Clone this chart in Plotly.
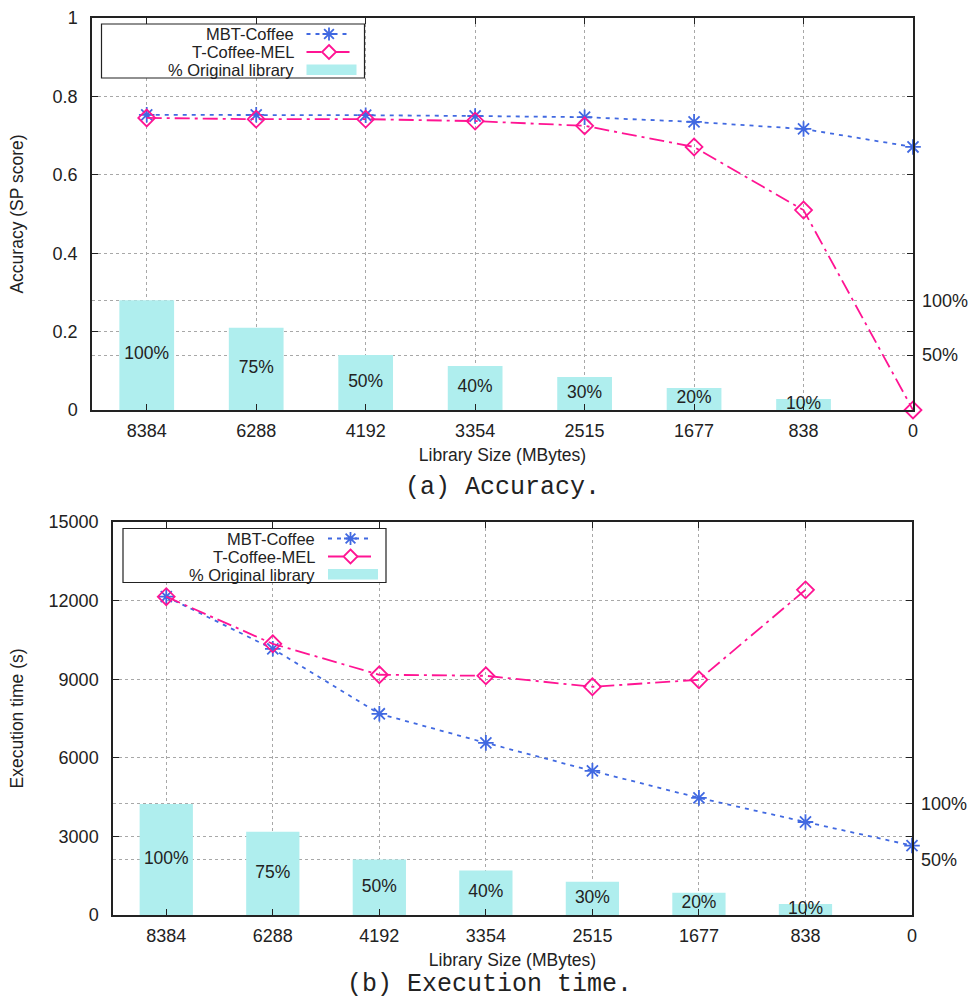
import plotly.graph_objects as go

# Library sizes (MBytes) on the x axis
sizes = ["8384", "6288", "4192", "3354", "2515", "1677", "838", "0"]

# Fraction of the original library kept, one bar per size (no bar at 0)
pct_library = [100, 75, 50, 40, 30, 20, 10]

# (a) Accuracy, SP score
acc_mbt = [0.753, 0.753, 0.752, 0.750, 0.747, 0.735, 0.717, 0.671]
acc_tcoffee = [0.745, 0.742, 0.742, 0.737, 0.725, 0.671, 0.510, 0.0]

# (b) Execution time, seconds
time_mbt = [12150, 10160, 7680, 6570, 5500, 4470, 3550, 2650]
time_tcoffee = [12150, 10350, 9170, 9130, 8710, 8980, 12410]

# Height (in left-axis units) that the 100% bar reaches in each panel
bar_full_acc = 0.28
bar_full_time = 4240

series_names = ["MBT-Coffee", "T-Coffee-MEL", "% Original library"]

BLUE = "#4169e1"
PINK = "#ff1493"
BAR = "#afeeee"
INK = "#222222"
GRID = "#a8a8a8"
FONT = "Liberation Sans"
MBT_DASH = "4px,5px"
TC_DASH = "15px,5px,3px,5px"

W, H = 971, 998


def px_x(a, b):
    return [a / W, b / W]


def px_y(top, bottom):
    return [1 - bottom / H, 1 - top / H]


def fx(px):
    return px / W


def fy(py):
    return 1 - py / H


fig = go.Figure()


def add_panel(xa, ya, ya2, y_mbt, y_tc, bar_full, ymax):
    fig.add_trace(go.Scatter(
        x=sizes[:len(y_mbt)], y=y_mbt, name=series_names[0], mode="lines+markers",
        line=dict(color=BLUE, width=1.8, dash=MBT_DASH),
        marker=dict(symbol="asterisk-open", size=13, color=BLUE,
                    line=dict(color=BLUE, width=1.8)),
        xaxis=xa, yaxis=ya, showlegend=False, cliponaxis=False))
    fig.add_trace(go.Scatter(
        x=sizes[:len(y_tc)], y=y_tc, name=series_names[1], mode="lines+markers",
        line=dict(color=PINK, width=1.8, dash=TC_DASH),
        marker=dict(symbol="diamond-open", size=13, color=PINK,
                    line=dict(color=PINK, width=1.8)),
        xaxis=xa, yaxis=ya, showlegend=False, cliponaxis=False))
    fig.add_trace(go.Bar(
        x=sizes[:len(pct_library)], y=pct_library, name=series_names[2],
        marker=dict(color=BAR, line=dict(width=0)), width=0.5,
        xaxis=xa, yaxis=ya2, showlegend=False))
    fig.add_trace(go.Scatter(
        x=sizes[:len(pct_library)], y=[p / 2 for p in pct_library],
        text=[f"{p}%" for p in pct_library], mode="text",
        textfont=dict(family=FONT, size=17.5, color=INK),
        showlegend=False, hoverinfo="skip",
        xaxis=xa, yaxis=ya2, cliponaxis=False))
    return ymax / bar_full * 100


r_acc = add_panel("x", "y", "y2", acc_mbt, acc_tcoffee, bar_full_acc, 1.0)
r_time = add_panel("x3", "y3", "y4", time_mbt, time_tcoffee, bar_full_time, 15000)


# Boxed key in the upper-left corner of each panel: label, then line/marker sample
def key_box(left, top):
    shapes, notes = [], []
    shapes.append(dict(type="rect", xref="paper", yref="paper", layer="above",
                       x0=fx(left), x1=fx(left + 263), y0=fy(top + 54), y1=fy(top),
                       fillcolor="white", line=dict(color=INK, width=1.2)))
    rows = [top + 10, top + 28, top + 46]
    text_right = left + 193
    s0, s1 = left + 205, left + 250
    mid = (s0 + s1) / 2
    for name, ry in zip(series_names, rows):
        notes.append(dict(text=name, x=fx(text_right), y=fy(ry), xref="paper", yref="paper",
                          xanchor="right", yanchor="middle", showarrow=False,
                          borderpad=0, font=dict(family=FONT, size=16.5, color=INK)))
    # MBT-Coffee sample
    shapes.append(dict(type="line", xref="paper", yref="paper", layer="above",
                       x0=fx(s0), x1=fx(s1), y0=fy(rows[0]), y1=fy(rows[0]),
                       line=dict(color=BLUE, width=1.8, dash=MBT_DASH)))
    r = 6.5
    cy = rows[0]
    star = (f"M{fx(mid)},{fy(cy - r)} L{fx(mid)},{fy(cy + r)} "
            f"M{fx(mid - r)},{fy(cy)} L{fx(mid + r)},{fy(cy)} "
            f"M{fx(mid - r * 0.75)},{fy(cy - r * 0.75)} L{fx(mid + r * 0.75)},{fy(cy + r * 0.75)} "
            f"M{fx(mid - r * 0.75)},{fy(cy + r * 0.75)} L{fx(mid + r * 0.75)},{fy(cy - r * 0.75)}")
    shapes.append(dict(type="path", xref="paper", yref="paper", layer="above",
                       path=star, line=dict(color=BLUE, width=1.8)))
    # T-Coffee-MEL sample
    cy = rows[1]
    shapes.append(dict(type="line", xref="paper", yref="paper", layer="above",
                       x0=fx(s0), x1=fx(s1), y0=fy(cy), y1=fy(cy),
                       line=dict(color=PINK, width=1.8, dash=TC_DASH)))
    d = 7
    diamond = (f"M{fx(mid)},{fy(cy - d)} L{fx(mid + d)},{fy(cy)} "
               f"L{fx(mid)},{fy(cy + d)} L{fx(mid - d)},{fy(cy)} Z")
    shapes.append(dict(type="path", xref="paper", yref="paper", layer="above",
                       path=diamond, fillcolor="white", line=dict(color=PINK, width=1.8)))
    # Bar sample
    shapes.append(dict(type="rect", xref="paper", yref="paper", layer="above",
                       x0=fx(s0), x1=fx(s0 + 50), y0=fy(rows[2] + 5), y1=fy(rows[2] - 5.5),
                       fillcolor=BAR, line=dict(width=0)))
    return shapes, notes


shapes_a, notes_a = key_box(101.5, 24)
shapes_b, notes_b = key_box(123, 528.5)

xcommon = dict(
    type="category", categoryorder="array", categoryarray=sizes,
    range=[-0.5, 7], showline=True, linecolor=INK, linewidth=1.5,
    mirror="ticks", ticks="inside", ticklen=6, tickcolor=INK,
    showgrid=True, gridcolor=GRID, griddash="dot", gridwidth=1,
    tickfont=dict(family=FONT, size=18, color=INK), ticklabelstandoff=4,
    zeroline=False, automargin=False,
    title=dict(text="Library Size (MBytes)",
               font=dict(family=FONT, size=17.5, color=INK), standoff=8),
)
ycommon = dict(
    showline=True, linecolor=INK, linewidth=1.5, mirror="ticks",
    ticks="inside", ticklen=6, tickcolor=INK,
    showgrid=True, gridcolor=GRID, griddash="dot", gridwidth=1,
    tickfont=dict(family=FONT, size=18, color=INK), ticklabelstandoff=9,
    zeroline=False, automargin=False,
)
yright = dict(
    side="right", showline=False, ticks="inside", ticklen=6, tickcolor=INK,
    tickvals=[50, 100], ticktext=["50%", "100%"],
    showgrid=True, gridcolor=GRID, griddash="dot", gridwidth=1,
    tickfont=dict(family=FONT, size=18, color=INK), ticklabelstandoff=8,
    zeroline=False, automargin=False,
)

caption_font = dict(family="Liberation Mono", size=25, color=INK)

fig.update_layout(
    width=W, height=H, margin=dict(l=0, r=0, t=0, b=0, autoexpand=False),
    paper_bgcolor="white", plot_bgcolor="white",
    barmode="overlay", showlegend=False,
    xaxis=dict(domain=px_x(92, 913), anchor="y", **xcommon),
    yaxis=dict(domain=px_y(18, 410), anchor="x", range=[0, 1], dtick=0.2,
               title=dict(text="Accuracy (SP score)",
                          font=dict(family=FONT, size=17.5, color=INK), standoff=24),
               **ycommon),
    yaxis2=dict(overlaying="y", anchor="x", range=[0, r_acc], **yright),
    xaxis3=dict(domain=px_x(113, 912), anchor="y3", **xcommon),
    yaxis3=dict(domain=px_y(522, 915), anchor="x3", range=[0, 15000], dtick=3000,
                tickformat="d",
                title=dict(text="Execution time (s)",
                           font=dict(family=FONT, size=17.5, color=INK), standoff=20),
                **ycommon),
    yaxis4=dict(overlaying="y3", anchor="x3", range=[0, r_time], **yright),
    shapes=shapes_a + shapes_b,
    annotations=notes_a + notes_b + [
        dict(text="(a) Accuracy.", x=502 / W, y=1 - 487 / H, xref="paper", yref="paper",
             showarrow=False, xanchor="center", yanchor="middle", font=caption_font),
        dict(text="(b) Execution time.", x=490 / W, y=1 - 984 / H, xref="paper", yref="paper",
             showarrow=False, xanchor="center", yanchor="middle", font=caption_font),
    ],
)

fig.write_html("out.html")
